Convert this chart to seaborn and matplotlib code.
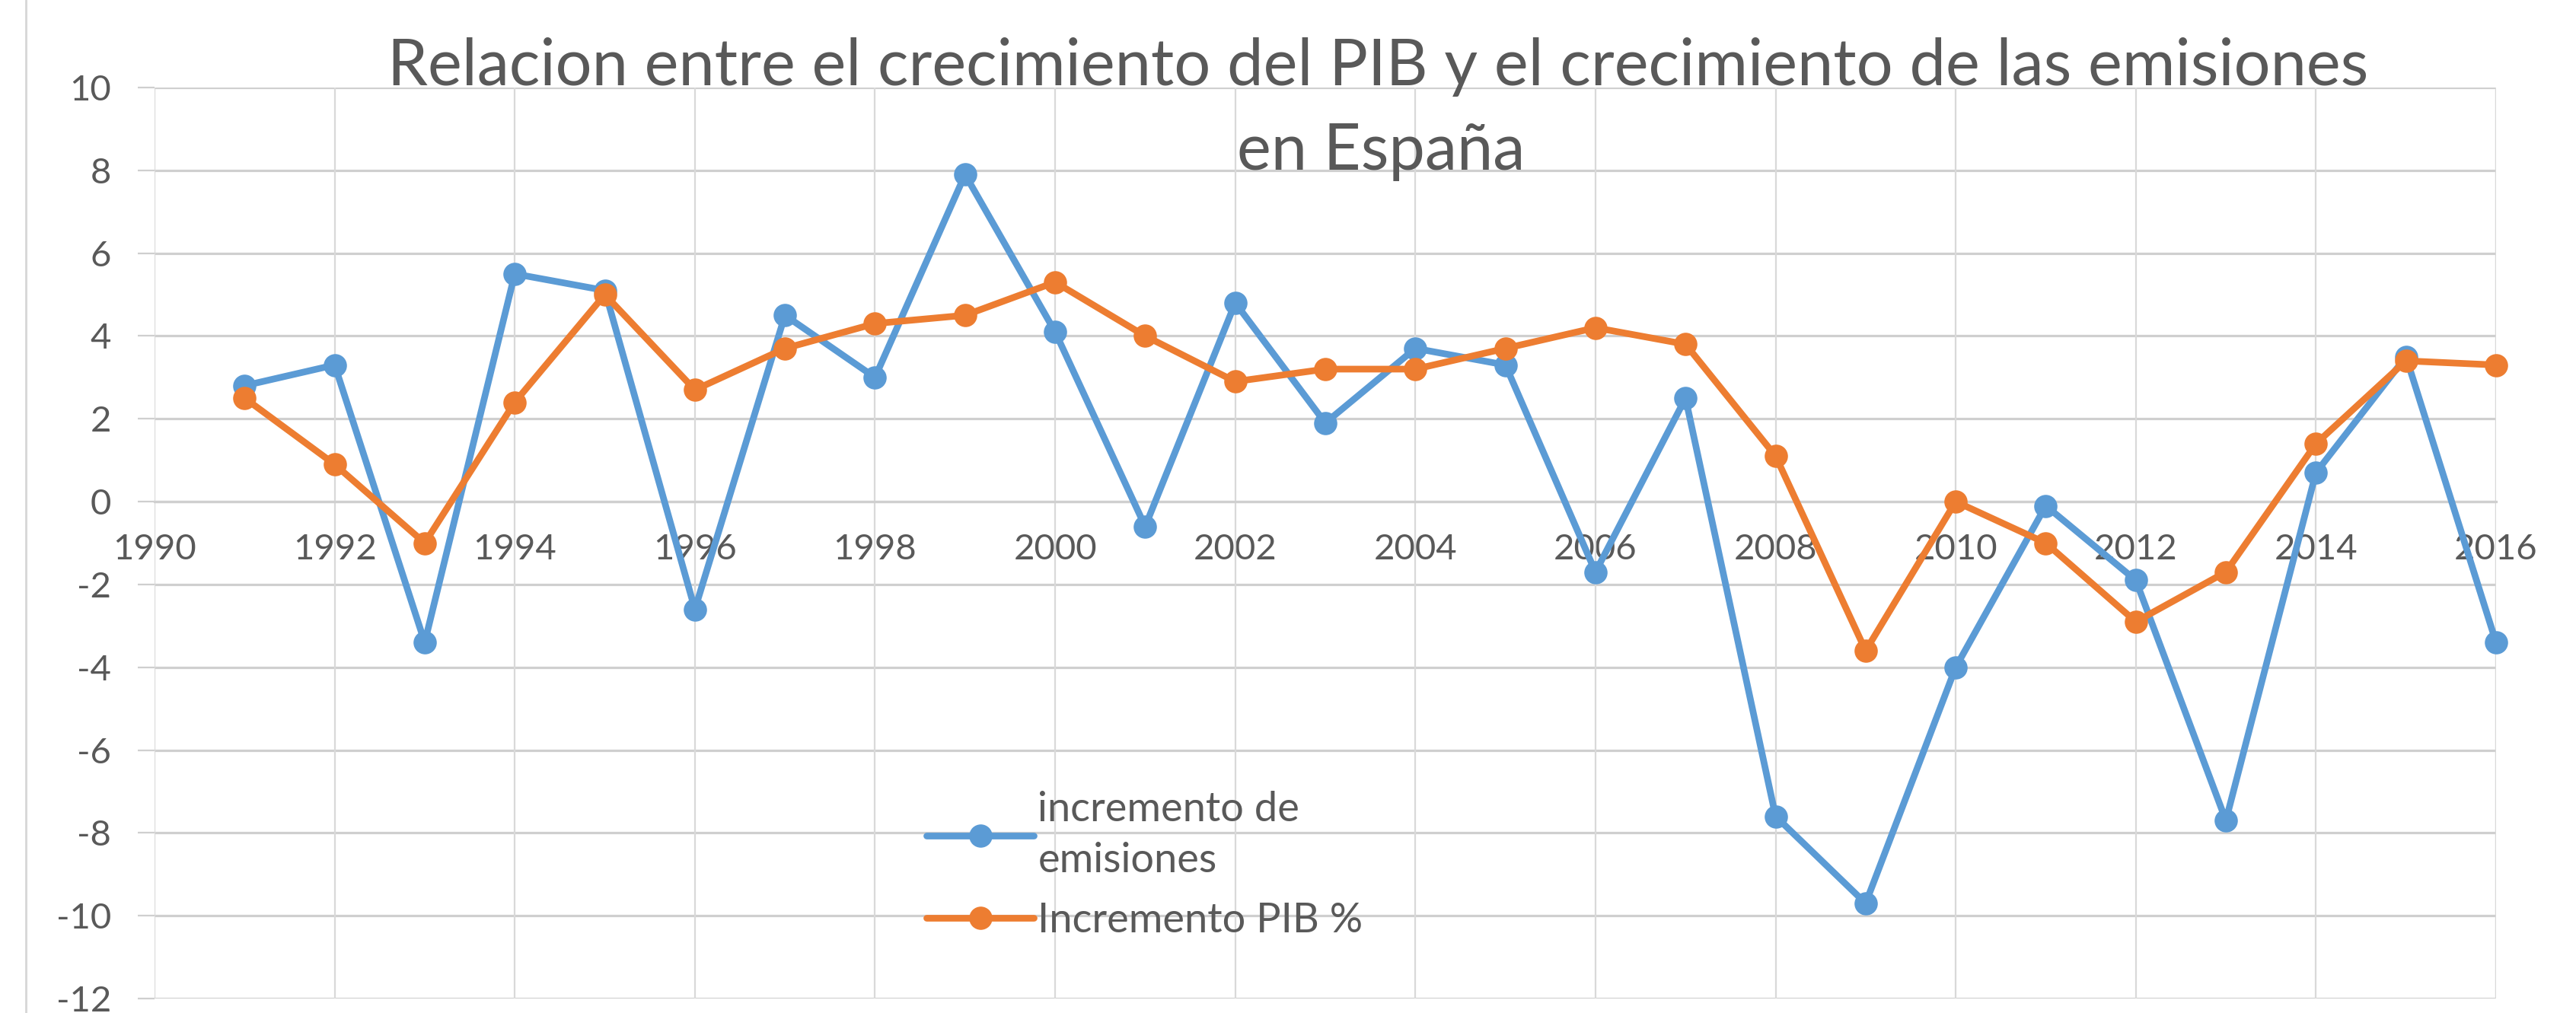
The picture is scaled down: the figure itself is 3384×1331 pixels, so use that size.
import matplotlib
matplotlib.use("Agg")
import matplotlib.pyplot as plt
from matplotlib.lines import Line2D
import seaborn as sns
import pandas as pd

years = list(range(1991, 2017))
emisiones = [2.8, 3.3, -3.4, 5.5, 5.1, -2.6, 4.5, 3.0, 7.9, 4.1, -0.6, 4.8, 1.9,
             3.7, 3.3, -1.7, 2.5, -7.6, -9.7, -4.0, -0.1, -1.9, -7.7, 0.7, 3.5, -3.4]
pib = [2.5, 0.9, -1.0, 2.4, 5.0, 2.7, 3.7, 4.3, 4.5, 5.3, 4.0, 2.9, 3.2,
       3.2, 3.7, 4.2, 3.8, 1.1, -3.6, 0.0, -1.0, -2.9, -1.7, 1.4, 3.4, 3.3]
serie_labels = ["incremento de\nemisiones", "Incremento PIB %"]
title_lines = ["Relacion entre el crecimiento del PIB y el crecimiento de las emisiones",
               "en España"]
x_ticks = list(range(1990, 2017, 2))
y_ticks = list(range(-12, 11, 2))

sns.set_theme(style="white")
plt.rcParams['font.family'] = ['Lato', 'DejaVu Sans']
plt.rcParams['axes.unicode_minus'] = False

TXT = "#595959"
BLUE = "#5b9bd5"
ORANGE = "#ed7d31"
GRID_H = "#cfcfcf"
GRID_V = "#d9d9d9"

fig = plt.figure(figsize=(33.84, 13.31), dpi=100)
fig.patch.set_facecolor("white")
ax = fig.add_axes([203/3384, 1-1312/1331, (3279-203)/3384, (1312-115)/1331])

df = pd.DataFrame({"year": years, "emis": emisiones, "pib": pib})
for col, color, lab in [("emis", BLUE, serie_labels[0]), ("pib", ORANGE, serie_labels[1])]:
    sns.lineplot(data=df, x="year", y=col, ax=ax, color=color, linewidth=6.3,
                 marker="o", markersize=22, markeredgecolor=color, markeredgewidth=0,
                 label=lab, clip_on=False, zorder=3)

ax.set_xlim(1990, 2016)
ax.set_ylim(-12, 10)
ax.set_xticks(x_ticks)
ax.set_yticks(y_ticks)
ax.set_xlabel("")
ax.set_ylabel("")

ax.grid(False)
for y in y_ticks:
    ax.axhline(y, color=GRID_H, lw=2.3, zorder=1)
for x in x_ticks + [2016]:
    ax.axvline(x, color=GRID_V, lw=1.6, zorder=1)

for s in ["top", "right", "left"]:
    ax.spines[s].set_visible(False)
ax.spines["bottom"].set_position(("data", 0))
ax.spines["bottom"].set_color(GRID_H)
ax.spines["bottom"].set_linewidth(2.3)

ax.tick_params(axis="x", length=0, pad=30, labelsize=34, labelcolor=TXT)
ax.tick_params(axis="y", length=16, width=1.6, color=GRID_H, direction="out",
               pad=25, labelsize=34, labelcolor=TXT, left=True)

leg = ax.legend(loc="upper left", bbox_to_anchor=(1190/3384, 1-1012/1331),
                bbox_transform=fig.transFigure, frameon=False, fontsize=39,
                handlelength=2.6, handletextpad=0.1, labelspacing=0.55,
                borderpad=0.0, labelcolor=TXT)
for t in leg.get_texts():
    t.set_linespacing(1.45)

fig.text(0.535, 1-112/1331, title_lines[0], ha="center", va="baseline",
         fontsize=61, color=TXT, fontweight="normal")
fig.text(0.536, 1-223/1331, title_lines[1], ha="center", va="baseline",
         fontsize=61, color=TXT, fontweight="normal")

fig.add_artist(Line2D([34/3384, 34/3384], [0, 1], transform=fig.transFigure,
                      color="#d6d6d6", lw=2))

fig.savefig("out.png", dpi=100, facecolor="white")
